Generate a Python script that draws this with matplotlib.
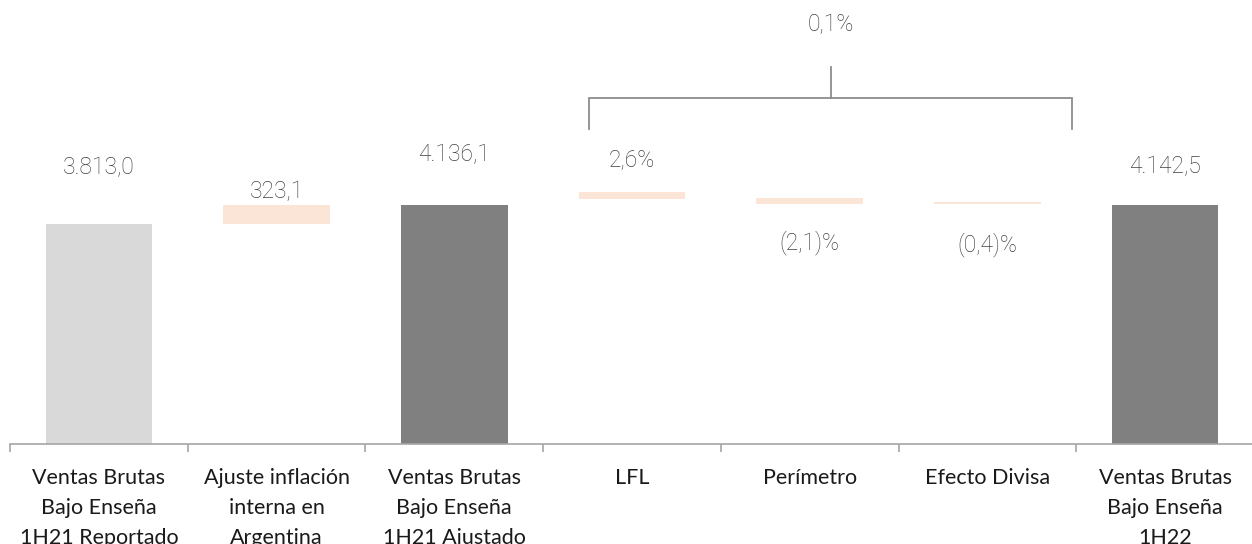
import matplotlib.pyplot as plt
import numpy as np

categorias = ['Ventas Brutas\nBajo Enseña\n1H21 Reportado', 'Ajuste inflación\ninterna en\nArgentina',
              'Ventas Brutas\nBajo Enseña\n1H21 Ajustado', 'LFL', 'Perímetro', 'Efecto Divisa',
              'Ventas Brutas\nBajo Enseña\n1H22']
# base y tope de cada barra (las de variacion flotan)
base = [0, 3813.0, 0, 4245, 4154, 4154, 0]
tope = [3813.0, 4136.1, 4136.1, 4361, 4252, 4188, 4142.5]
etiquetas = ['3.813,0', '323,1', '4.136,1', '2,6%', '(2,1)%', '(0,4)%', '4.142,5']
total_var = '0,1%'

colores = ['#D9D9D9', '#FBE5D6', '#808080', '#FBE5D6', '#FBE5D6', '#FBE5D6', '#808080']
# altura (centro) de las etiquetas
y_etiq = [4777, 4361, 5002, 4915, 3479, 3444, 4794]

fig = plt.figure(figsize=(12.52, 5.44), dpi=100)
ax = fig.add_axes([10/1252, 100/544, 1244/1252, 444/544])

x = np.arange(len(categorias))
alturas = np.array(tope) - np.array(base)
ax.bar(x, alturas, bottom=base, width=0.6, color=colores, edgecolor='none')

for xi, txt, yi in zip(x, etiquetas, y_etiq):
    ax.text(xi, yi, txt, ha='center', va='center', fontsize=16.5, color='#404040',
            family='Roboto', weight='light')

# llave sobre LFL, Perimetro y Efecto Divisa
c_llave = '#8C8C8C'
xl, xr, xc = 2.758, 5.476, 4.12
ax.plot([xl, xl, xr, xr], [5452, 5988, 5988, 5452], color=c_llave, lw=1.3, solid_joinstyle='miter')
ax.plot([xc, xc], [5988, 6525], color=c_llave, lw=1.3)
ax.text(xc, 7252, total_var, ha='center', va='center', fontsize=16.5, color='#404040',
        family='Roboto', weight='light')

ax.set_xlim(-0.5, 6.5)
ax.set_ylim(0, 444/0.05778)
for s in ['top', 'right', 'left']:
    ax.spines[s].set_visible(False)
ax.spines['bottom'].set_color('#A6A6A6')
ax.spines['bottom'].set_linewidth(1.2)
ax.set_yticks([])
ax.set_xticks(x)
ax.set_xticklabels(categorias, fontsize=15.5, family='Lato', color='#1A1A1A', linespacing=1.6)
ax.tick_params(axis='x', which='major', length=0, pad=17.5)
ax.set_xticks(np.arange(-0.5, 7, 1), minor=True)
ax.tick_params(axis='x', which='minor', length=6, width=1.2, color='#A6A6A6', direction='out')

fig.savefig('out.png', dpi=100)
